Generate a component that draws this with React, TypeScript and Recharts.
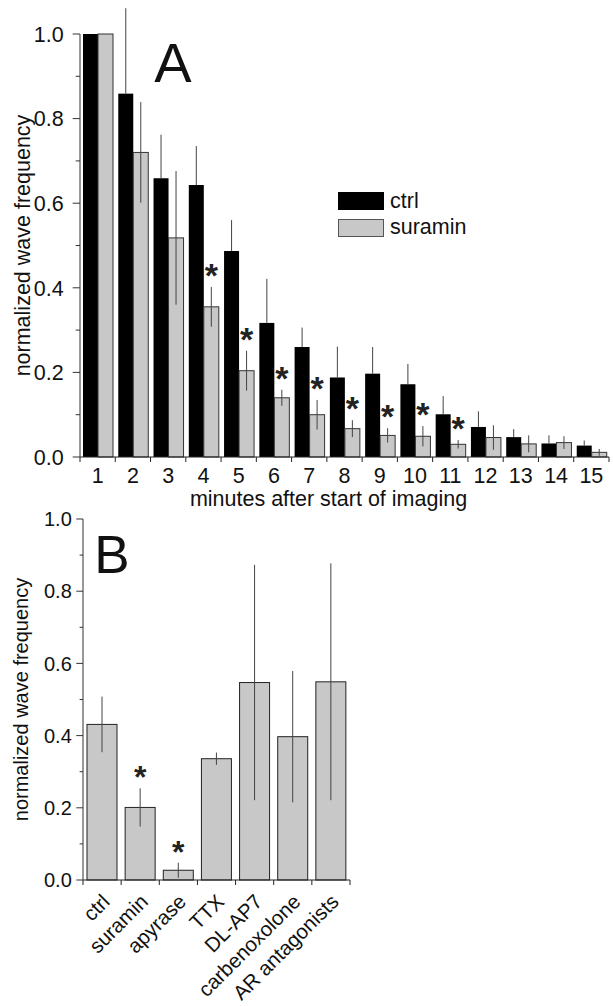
import React from 'react';
import { BarChart, Bar, XAxis, YAxis, Legend, Label } from 'recharts';

const FONT = '"Liberation Sans", Arial, Helvetica, sans-serif';

// panel A: wave frequency per minute of imaging
const minutes = ['1', '2', '3', '4', '5', '6', '7', '8', '9', '10', '11', '12', '13', '14', '15'];
const ctrlMean = [1.0, 0.859, 0.659, 0.643, 0.487, 0.317, 0.26, 0.188, 0.197, 0.172, 0.101, 0.071, 0.047, 0.032, 0.027];
const ctrlErr = [0, 0.202, 0.103, 0.092, 0.073, 0.104, 0.046, 0.073, 0.063, 0.048, 0.043, 0.037, 0.019, 0.019, 0.012];
const suraminMean = [1.0, 0.72, 0.518, 0.355, 0.204, 0.14, 0.1, 0.067, 0.051, 0.049, 0.03, 0.046, 0.031, 0.034, 0.011];
const suraminErr = [0, 0.119, 0.158, 0.047, 0.047, 0.019, 0.035, 0.02, 0.017, 0.024, 0.01, 0.029, 0.02, 0.015, 0.008];
const suraminSig = [false, false, false, true, true, true, true, true, true, true, true, false, false, false, false];

// panel B: treatments
const treatments = ['ctrl', 'suramin', 'apyrase', 'TTX', 'DL-AP7', 'carbenoxolone', 'AR antagonists'];
const treatMean = [0.431, 0.201, 0.027, 0.336, 0.547, 0.397, 0.549];
const treatErr = [0.077, 0.053, 0.021, 0.017, 0.326, 0.182, 0.328];
const treatSig = [false, true, true, false, false, false, false];

const yTicks = [0, 0.1, 0.2, 0.3, 0.4, 0.5, 0.6, 0.7, 0.8, 0.9, 1.0];

const dataA = minutes.map((m, i) => ({
  minute: m,
  ctrl: ctrlMean[i],
  ctrlErr: ctrlErr[i],
  suramin: suraminMean[i],
  suraminErr: suraminErr[i],
  suraminSig: suraminSig[i],
}));

const dataB = treatments.map((t, i) => ({
  name: t,
  value: treatMean[i],
  err: treatErr[i],
  sig: treatSig[i],
}));

// bar with error line (and optional star) derived from the bar's own geometry
const makeShape = (valKey: string, errKey: string, sigKey: string | null, lower: boolean, starSize: number, starGap: number) =>
  (props: any) => {
    const { x, y, width, height, fill, stroke, payload } = props;
    const v = payload[valKey];
    const e = payload[errKey];
    const ppu = v > 0 ? height / v : 0;
    const cx = x + width / 2;
    const top = y - e * ppu;
    const bottom = lower ? y + e * ppu : y;
    return (
      <g>
        <rect x={x} y={y} width={width} height={height} fill={fill} stroke={stroke || 'none'} strokeWidth={1} />
        {e > 0 && <line x1={cx} x2={cx} y1={top} y2={bottom} stroke="#444" strokeWidth={1} />}
        {sigKey && payload[sigKey] && (
          <text x={cx} y={top - starGap} textAnchor="middle" fontSize={starSize} fontWeight="bold" fontFamily={FONT} fill="#222">
            *
          </text>
        )}
      </g>
    );
  };

const makeYTick = (major: number, minor: number, gap: number, fontSize: number) => (props: any) => {
  const { x, y, payload } = props;
  const v = payload.value;
  const isMajor = Math.round(v * 10) % 2 === 0;
  return (
    <g>
      <line x1={x - (isMajor ? major : minor)} x2={x} y1={y} y2={y} stroke="#333" />
      {isMajor && (
        <text x={x - major - gap} y={y} dy="0.36em" textAnchor="end" fontSize={fontSize} fontFamily={FONT} fill="#111">
          {v.toFixed(1)}
        </text>
      )}
    </g>
  );
};

const XTickA = (props: any) => {
  const { x, y, payload, index } = props;
  const half = payload.offset || 0;
  return (
    <g>
      <line x1={x - half} x2={x - half} y1={y} y2={y + 5} stroke="#222" />
      {index === minutes.length - 1 && <line x1={x + half} x2={x + half} y1={y} y2={y + 5} stroke="#222" />}
      <text x={x} y={y} dy={26} textAnchor="middle" fontSize={21.5} fontFamily={FONT} fill="#111">
        {payload.value}
      </text>
    </g>
  );
};

const XTickB = (props: any) => {
  const { x, y, payload, index } = props;
  const half = payload.offset || 0;
  const tx = x + 9;
  const ty = y + 23;
  return (
    <g>
      <line x1={x - half} x2={x - half} y1={y} y2={y + 5} stroke="#222" />
      {index === treatments.length - 1 && <line x1={x + half} x2={x + half} y1={y} y2={y + 5} stroke="#222" />}
      <text x={tx} y={ty} textAnchor="end" transform={`rotate(-45, ${tx}, ${ty})`} fontSize={20.5} fontFamily={FONT} fill="#111">
        {payload.value}
      </text>
    </g>
  );
};

const LegendA = (props: any) => {
  const { payload } = props;
  return (
    <div style={{ fontFamily: FONT, fontSize: 21.5, color: '#111' }}>
      {payload.map((p: any) => (
        <div key={p.value} style={{ display: 'flex', alignItems: 'center', height: 26.7 }}>
          <div
            style={{
              width: 46,
              height: 18,
              boxSizing: 'border-box',
              background: p.color,
              border: p.value === 'suramin' ? '1px solid #555' : 'none',
              marginRight: 6,
            }}
          />
          <span style={{ lineHeight: 1 }}>{p.value}</span>
        </div>
      ))}
    </div>
  );
};

export default function App() {
  return (
    <div style={{ position: 'absolute', left: 0, top: 0, width: 613, height: 1006, background: '#fff' }}>
      <div style={{ position: 'absolute', left: 0, top: 0 }}>
        <BarChart width={613} height={520} data={dataA} margin={{ top: 34, right: 4, left: 10, bottom: 13 }} barCategoryGap={3} barGap={0}>
          <XAxis dataKey="minute" height={50} tickSize={0} tickMargin={0} tickLine={false} interval={0} stroke="#222" tick={XTickA}>
            <Label value="minutes after start of imaging" position="insideBottom" offset={1} dx={-16} fontSize={21.5} fontFamily={FONT} fill="#111" />
          </XAxis>
          <YAxis
            width={70}
            domain={[0, 1]}
            ticks={yTicks}
            interval={0}
            tickSize={0}
            tickMargin={0}
            tickLine={false}
            stroke="#333"
            tick={makeYTick(7.3, 4.3, 9, 21.5)}
          >
            <Label
              value="normalized wave frequency"
              angle={-90}
              position="insideLeft"
              offset={12}
              fontSize={21.5}
              fontFamily={FONT}
              fill="#111"
              style={{ textAnchor: 'middle' }}
            />
          </YAxis>
          <Legend
            layout="vertical"
            align="center"
            verticalAlign="middle"
            wrapperStyle={{ left: 338, top: 188, width: 200 }}
            content={LegendA}
          />
          <Bar dataKey="ctrl" name="ctrl" fill="#000" isAnimationActive={false} shape={makeShape('ctrl', 'ctrlErr', null, false, 34, 0)} />
          <Bar
            dataKey="suramin"
            name="suramin"
            fill="#c8c8c8"
            stroke="#333"
            isAnimationActive={false}
            shape={makeShape('suramin', 'suraminErr', 'suraminSig', true, 34, 0)}
          />
          <text x={173} y={82} textAnchor="middle" fontSize={56} fontFamily={FONT} fill="#111">
            A
          </text>
        </BarChart>
      </div>
      <div style={{ position: 'absolute', left: 0, top: 500 }}>
        <BarChart width={613} height={506} data={dataB} margin={{ top: 19, right: 263, left: 13, bottom: 6 }} barCategoryGap={4}>
          <XAxis dataKey="name" height={120} tickSize={0} tickMargin={0} tickLine={false} interval={0} stroke="#222" tick={XTickB} />
          <YAxis
            width={70}
            domain={[0, 1]}
            ticks={yTicks}
            interval={0}
            tickSize={0}
            tickMargin={0}
            tickLine={false}
            stroke="#333"
            tick={makeYTick(6.7, 3.4, 4.5, 20)}
          >
            <Label
              value="normalized wave frequency"
              angle={-90}
              position="insideLeft"
              offset={8}
              fontSize={20}
              fontFamily={FONT}
              fill="#111"
              style={{ textAnchor: 'middle' }}
            />
          </YAxis>
          <Bar dataKey="value" fill="#c8c8c8" stroke="#222" isAnimationActive={false} shape={makeShape('value', 'err', 'sig', true, 32, 0)} />
          <text x={112} y={73} textAnchor="middle" fontSize={53} fontFamily={FONT} fill="#111">
            B
          </text>
        </BarChart>
      </div>
    </div>
  );
}
